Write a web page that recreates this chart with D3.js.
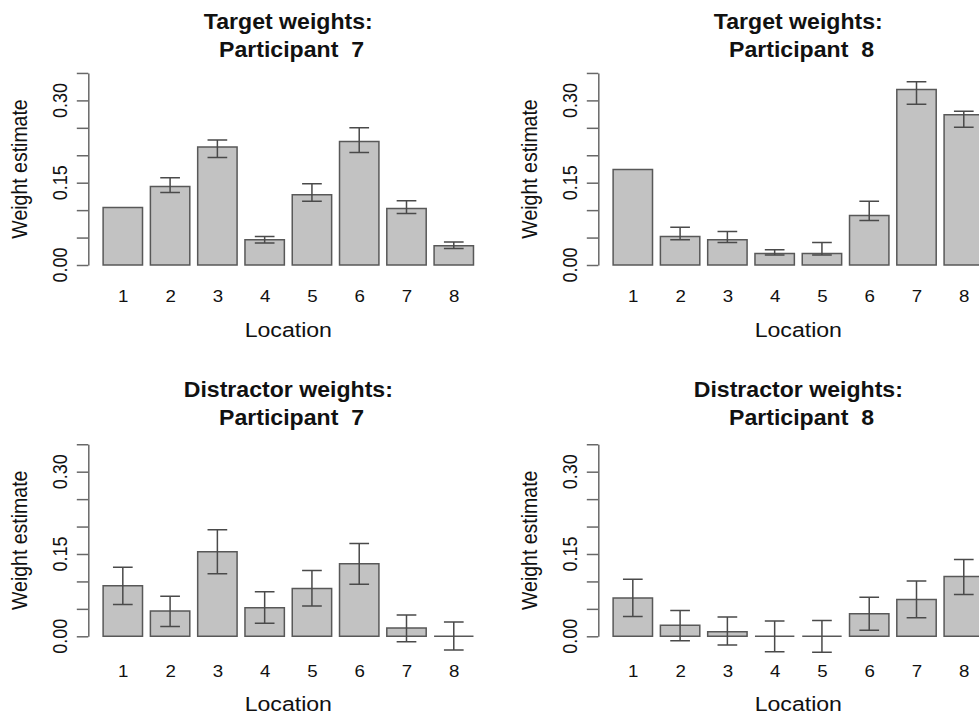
<!DOCTYPE html>
<html>
<head>
<meta charset="utf-8">
<script src="https://cdn.jsdelivr.net/npm/d3@7"></script>
<style>
  body { margin: 0; background: #fff; }
  svg { display: block; }
  text { font-family: "Liberation Sans", Arial, sans-serif; fill: #111; white-space: pre; }
</style>
</head>
<body>
<svg id="chart" width="979" height="716"></svg>
<script>
// data
const locations = ["1", "2", "3", "4", "5", "6", "7", "8"];
const yTicks = [0, 0.05, 0.10, 0.15, 0.20, 0.25, 0.30, 0.35];
const yTickLabels = [0, 0.15, 0.30];

const panelTitles = [
    ["Target weights:", " Participant  7"],
    ["Target weights:", " Participant  8"],
    ["Distractor weights:", " Participant  7"],
    ["Distractor weights:", " Participant  8"]
];

// target weights, participant 7
const target7 = [0.105, 0.143, 0.215, 0.046, 0.128, 0.225, 0.103, 0.035];
const target7Lo = [null, 0.132, 0.196, 0.040, 0.116, 0.205, 0.094, 0.030];
const target7Hi = [null, 0.159, 0.228, 0.052, 0.148, 0.250, 0.117, 0.042];

// target weights, participant 8
const target8 = [0.174, 0.052, 0.046, 0.021, 0.021, 0.090, 0.320, 0.274];
const target8Lo = [null, 0.046, 0.041, 0.018, 0.018, 0.081, 0.293, 0.251];
const target8Hi = [null, 0.069, 0.061, 0.028, 0.041, 0.116, 0.334, 0.280];

// distractor weights, participant 7
const distractor7 = [0.092, 0.046, 0.154, 0.052, 0.087, 0.132, 0.015, 0];
const distractor7Lo = [0.058, 0.018, 0.114, 0.024, 0.055, 0.095, -0.010, -0.025];
const distractor7Hi = [0.126, 0.073, 0.194, 0.081, 0.120, 0.169, 0.039, 0.026];

// distractor weights, participant 8
const distractor8 = [0.070, 0.020, 0.0085, 0, 0, 0.041, 0.067, 0.109];
const distractor8Lo = [0.036, -0.008, -0.016, -0.028, -0.029, 0.011, 0.034, 0.076];
const distractor8Hi = [0.104, 0.047, 0.035, 0.028, 0.029, 0.071, 0.101, 0.140];

const series = [
    [target7, target7Lo, target7Hi],
    [target8, target8Lo, target8Hi],
    [distractor7, distractor7Lo, distractor7Hi],
    [distractor8, distractor8Lo, distractor8Hi]
];

// layout
const axisXs = [88.3, 598.3];
const rows = [
    { y0: 265, title1: 28.5, title2: 57, tickDy: 37, labelDy: 72 },
    { y0: 636.3, title1: 397, title2: 425, tickDy: 40.7, labelDy: 74.7 }
];
const plotWidth = 400;
const unitPx = 548.7;       // px per weight unit
const stretch = 1.1;        // the picture is a little wider than tall
const capHalf = 0.25;       // error bar cap, in bar units

const svg = d3.select("#chart");

function label(g, x, y, s, size, opts) {
    opts = opts || {};
    const sx = opts.sx || stretch;
    return g.append("text")
        .attr("transform", "translate(" + x + "," + y + ") scale(" + sx + ",1)"
            + (opts.rotate ? " rotate(-90)" : ""))
        .attr("text-anchor", "middle")
        .attr("font-size", size)
        .attr("font-weight", opts.bold ? "bold" : null)
        .text(s);
}

series.forEach(function (s, p) {
    const values = s[0], lo = s[1], hi = s[2];
    const row = rows[Math.floor(p / 2)];
    const ax = axisXs[p % 2];

    const x = d3.scaleLinear().domain([-0.176, 9.976]).range([ax, ax + plotWidth]);
    const y = d3.scaleLinear().domain([0, 0.35]).range([row.y0, row.y0 - 0.35 * unitPx]);

    const g = svg.append("g");
    const data = values.map(function (v, i) {
        return { v: v, lo: lo[i], hi: hi[i], left: 0.2 + 1.2 * i, name: locations[i] };
    });

    // bars (paths so zero-height bars still show their outline)
    g.selectAll("path.bar")
        .data(data)
        .enter().append("path")
        .attr("class", "bar")
        .attr("d", function (d) {
            return "M" + x(d.left) + "," + y(0)
                + "V" + y(d.v)
                + "H" + x(d.left + 1)
                + "V" + y(0) + "Z";
        })
        .attr("fill", "#c2c2c2")
        .attr("stroke", "#585858")
        .attr("stroke-width", 1.5);

    // error bars
    const err = g.selectAll("g.err")
        .data(data.filter(function (d) { return d.lo !== null; }))
        .enter().append("g")
        .attr("class", "err")
        .attr("stroke", "#4a4a4a")
        .attr("stroke-width", 1.5)
        .attr("fill", "none");
    err.append("path")
        .attr("d", function (d) {
            const c = d.left + 0.5;
            return "M" + x(c) + "," + y(d.lo) + "V" + y(d.hi)
                + "M" + x(c - capHalf) + "," + y(d.hi) + "H" + x(c + capHalf)
                + "M" + x(c - capHalf) + "," + y(d.lo) + "H" + x(c + capHalf);
        });

    // y axis
    const yAxis = g.append("g")
        .attr("transform", "translate(" + ax + ",0)")
        .call(d3.axisLeft(y)
            .tickValues(yTicks)
            .tickSize(11.5)
            .tickSizeOuter(0)
            .tickFormat(""));
    yAxis.selectAll("path, line")
        .attr("stroke", "#686868")
        .attr("stroke-width", 1.5);

    yTickLabels.forEach(function (t) {
        label(g, ax - 21, y(t), d3.format(".2f")(t), 18, { rotate: true });
    });

    // x labels under each bar
    const xAxis = g.append("g")
        .attr("transform", "translate(0," + row.y0 + ")")
        .call(d3.axisBottom(x)
            .tickValues(data.map(function (d) { return d.left + 0.5; }))
            .tickFormat(function (t, i) { return locations[i]; })
            .tickSize(0)
            .tickPadding(0));
    xAxis.select(".domain").remove();
    xAxis.selectAll("text")
        .attr("y", row.tickDy)
        .attr("dy", null)
        .attr("font-size", 17)
        .attr("font-family", "\"Liberation Sans\", Arial, sans-serif")
        .attr("fill", "#111")
        .attr("transform", "scale(" + stretch + ",1)");

    const cx = ax + plotWidth / 2;
    label(g, cx, row.y0 + row.labelDy, "Location", 21);
    label(g, ax - 61, row.y0 - 0.175 * unitPx, "Weight estimate", 19.5, { rotate: true });

    const title = panelTitles[p];
    label(g, cx, row.title1, title[0], 22, { bold: true, sx: 1.05 });
    label(g, cx, row.title2, title[1], 22, { bold: true, sx: 1.05 });
});
</script>
</body>
</html>
